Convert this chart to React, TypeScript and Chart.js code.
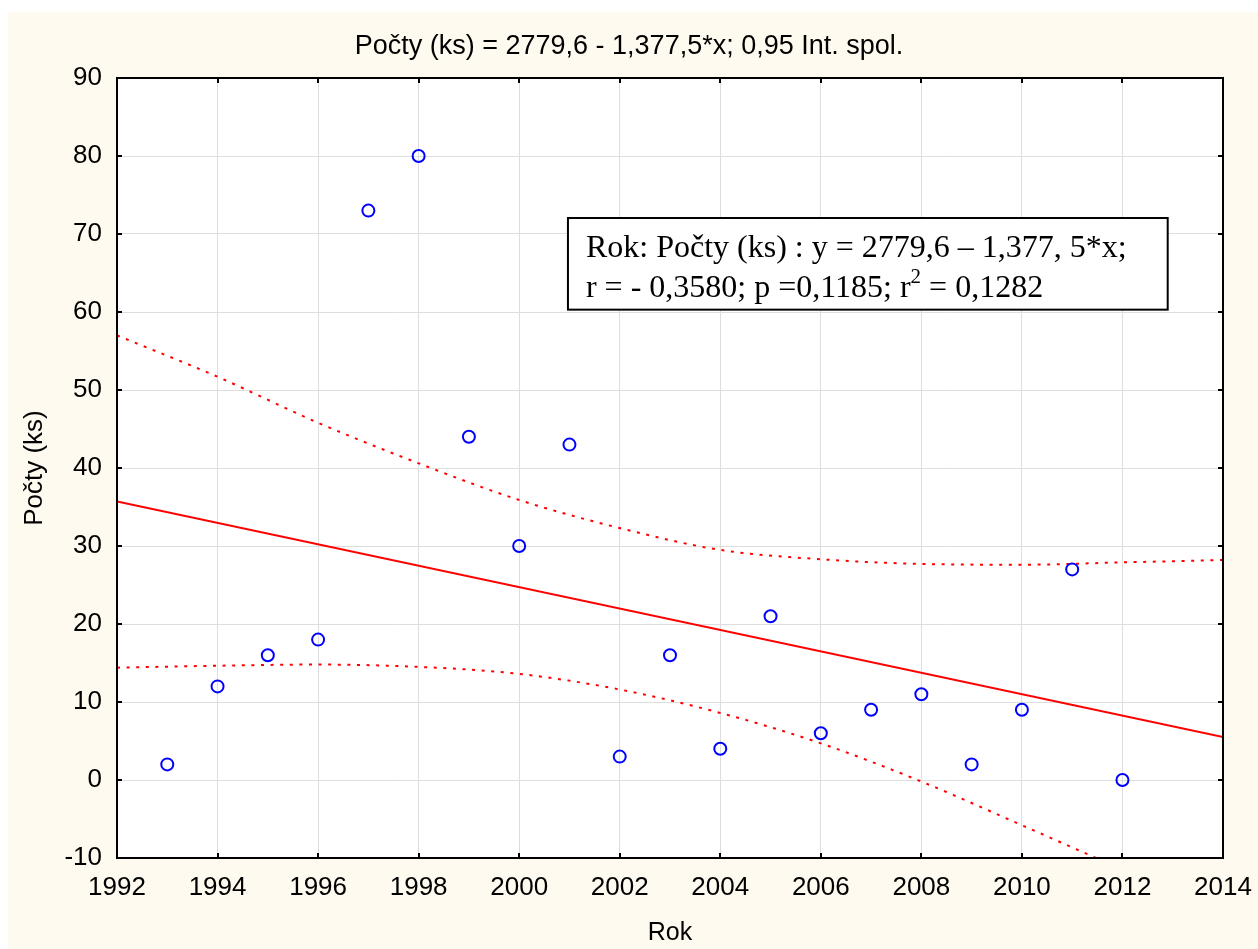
import React, { useEffect, useRef } from "react";
import { Chart, registerables } from "chart.js";

Chart.register(...registerables);

// ---- data ----
const years = [1993, 1994, 1995, 1996, 1997, 1998, 1999, 2000, 2001, 2002, 2003, 2004, 2005, 2006, 2007, 2008, 2009, 2010, 2011, 2012];
const counts = [2, 12, 16, 18, 73, 80, 44, 30, 43, 3, 16, 4, 21, 6, 9, 11, 2, 9, 27, 0];

const fitYears = [1992, 2014];
const fitValues = [35.7, 5.5];

const bandYears = [1992, 1994, 1996, 1998, 2000, 2002, 2004, 2006, 2008, 2010, 2012, 2014];
const upperBand = [57.0, 51.7, 45.8, 40.6, 35.9, 32.3, 29.5, 28.3, 27.7, 27.6, 27.9, 28.2];
const lowerBand = [14.4, 14.65, 14.8, 14.5, 13.6, 11.6, 8.6, 4.7, -0.2, -5.8, -11.5, -17.2];

const xMin = 1992;
const xMax = 2014;
const xStep = 2;
const yMin = -10;
const yMax = 90;
const yStep = 10;

const titleText = "Počty (ks) = 2779,6 - 1,377,5*x; 0,95 Int. spol.";
const xLabel = "Rok";
const yLabel = "Počty (ks)";
const noteLine1 = "Rok: Počty (ks) : y = 2779,6 – 1,377, 5*x;";
const noteLine2Parts = ["r = - 0,3580; p =0,1185; r", "2", " = 0,1282"];
// annotation box corners in data units
const noteBoxX = [2000.97, 2012.9];
const noteBoxY = [72.05, 60.3];

const CREAM = "#FFFAEF";
const SANS = "'Liberation Sans', Arial, sans-serif";
const SERIF = "'Liberation Serif', 'Times New Roman', serif";

const framePlugin = {
  id: "frameAndBg",
  beforeDraw(chart: any) {
    const { ctx, chartArea: a, width, height } = chart;
    ctx.save();
    ctx.fillStyle = "#ffffff";
    ctx.fillRect(0, 0, width, height);
    ctx.fillStyle = CREAM;
    ctx.fillRect(8, 12, width - 8, height - 12);
    ctx.fillStyle = "#ffffff";
    ctx.fillRect(a.left, a.top, a.right - a.left, a.bottom - a.top);
    ctx.restore();
  },
  afterDatasetsDraw(chart: any) {
    const { ctx, chartArea: a, scales } = chart;
    const xs = scales.x;
    const ys = scales.y;
    ctx.save();
    ctx.strokeStyle = "#000";
    ctx.lineWidth = 2;
    ctx.strokeRect(a.left, a.top, a.right - a.left, a.bottom - a.top);
    const tl = 5;
    ctx.beginPath();
    for (let v = xMin; v <= xMax; v += xStep) {
      const px = Math.round(xs.getPixelForValue(v));
      ctx.moveTo(px, a.bottom);
      ctx.lineTo(px, a.bottom - tl);
      ctx.moveTo(px, a.top);
      ctx.lineTo(px, a.top + tl);
    }
    for (let v = yMin; v <= yMax; v += yStep) {
      const py = Math.round(ys.getPixelForValue(v));
      ctx.moveTo(a.left, py);
      ctx.lineTo(a.left + tl, py);
      ctx.moveTo(a.right, py);
      ctx.lineTo(a.right - tl, py);
    }
    ctx.stroke();
    ctx.restore();
  },
  afterDraw(chart: any) {
    const { ctx, scales } = chart;
    const xs = scales.x;
    const ys = scales.y;
    const l = xs.getPixelForValue(noteBoxX[0]);
    const r = xs.getPixelForValue(noteBoxX[1]);
    const t = ys.getPixelForValue(noteBoxY[0]);
    const b = ys.getPixelForValue(noteBoxY[1]);
    ctx.save();
    ctx.fillStyle = "#ffffff";
    ctx.fillRect(l, t, r - l, b - t);
    ctx.beginPath();
    ctx.rect(l, t, r - l, b - t);
    ctx.clip();
    ctx.fillStyle = "#000";
    ctx.textBaseline = "alphabetic";
    ctx.textAlign = "left";
    ctx.font = `32px ${SERIF}`;
    const tx = l + 18;
    ctx.fillText(noteLine1, tx, t + 39);
    let cx = tx;
    const by = t + 79;
    ctx.fillText(noteLine2Parts[0], cx, by);
    cx += ctx.measureText(noteLine2Parts[0]).width;
    ctx.font = `21px ${SERIF}`;
    ctx.fillText(noteLine2Parts[1], cx, by - 14);
    cx += ctx.measureText(noteLine2Parts[1]).width;
    ctx.font = `32px ${SERIF}`;
    ctx.fillText(noteLine2Parts[2], cx, by);
    ctx.restore();
    ctx.save();
    ctx.strokeStyle = "#000";
    ctx.lineWidth = 2;
    ctx.strokeRect(l, t, r - l, b - t);
    ctx.restore();
  },
};

export default function App() {
  const ref = useRef<HTMLCanvasElement | null>(null);

  useEffect(() => {
    if (!ref.current) return;
    Chart.defaults.font.family = SANS;
    Chart.defaults.color = "#000";

    const points = years.map((x, i) => ({ x, y: counts[i] }));
    const fit = fitYears.map((x, i) => ({ x, y: fitValues[i] }));
    const upper = bandYears.map((x, i) => ({ x, y: upperBand[i] }));
    const lower = bandYears.map((x, i) => ({ x, y: lowerBand[i] }));

    const chart = new Chart(ref.current, {
      type: "scatter",
      data: {
        datasets: [
          {
            label: "Počty",
            data: points,
            showLine: false,
            pointStyle: "circle",
            pointRadius: 6,
            pointHoverRadius: 6,
            borderColor: "#0000FF",
            backgroundColor: "rgba(0,0,0,0)",
            borderWidth: 2,
            order: 0,
          },
          {
            label: "fit",
            data: fit,
            showLine: true,
            pointRadius: 0,
            borderColor: "#FF0000",
            borderWidth: 2,
            order: 1,
          },
          {
            label: "upper",
            data: upper,
            showLine: true,
            pointRadius: 0,
            borderColor: "#FF0000",
            borderWidth: 2,
            borderDash: [3, 6.6],
            cubicInterpolationMode: "monotone",
            order: 2,
          },
          {
            label: "lower",
            data: lower,
            showLine: true,
            pointRadius: 0,
            borderColor: "#FF0000",
            borderWidth: 2,
            borderDash: [3, 6.6],
            cubicInterpolationMode: "monotone",
            order: 3,
          },
        ],
      },
      options: {
        responsive: false,
        animation: false,
        events: [],
        layout: { padding: 0 },
        plugins: {
          legend: { display: false },
          tooltip: { enabled: false },
          title: {
            display: true,
            text: titleText,
            color: "#000",
            font: { size: 27, weight: "normal", family: SANS },
            padding: { top: 30.6, bottom: 15 },
          },
        },
        scales: {
          x: {
            type: "linear",
            min: xMin,
            max: xMax,
            afterFit: (s: any) => {
              s.height = 91;
              s.paddingLeft = 0;
              s.paddingRight = 35;
            },
            ticks: {
              stepSize: xStep,
              color: "#000",
              font: { size: 26, family: SANS },
              padding: 14,
              maxRotation: 0,
              callback: (v: any) => String(v),
            },
            grid: { color: "#dedede", lineWidth: 1, drawTicks: false },
            border: { display: false },
            title: {
              display: true,
              text: xLabel,
              color: "#000",
              font: { size: 25, family: SANS },
              padding: { top: 0, bottom: 1 },
            },
          },
          y: {
            type: "linear",
            min: yMin,
            max: yMax,
            afterFit: (s: any) => {
              s.width = 117;
              s.paddingTop = 0;
              s.paddingBottom = 0;
            },
            ticks: {
              stepSize: yStep,
              color: "#000",
              font: { size: 26, family: SANS },
              padding: 15,
              callback: (v: any) => String(v),
            },
            grid: { color: "#dedede", lineWidth: 1, drawTicks: false },
            border: { display: false },
            title: {
              display: true,
              text: yLabel,
              color: "#000",
              font: { size: 26, family: SANS },
              padding: { top: 19.4, bottom: 0 },
            },
          },
        },
      },
      plugins: [framePlugin],
    });

    return () => chart.destroy();
  }, []);

  return (
    <div style={{ position: "absolute", left: 0, top: 0, width: 1258, height: 949 }}>
      <canvas ref={ref} width={1258} height={949} style={{ display: "block", width: 1258, height: 949 }} />
    </div>
  );
}
